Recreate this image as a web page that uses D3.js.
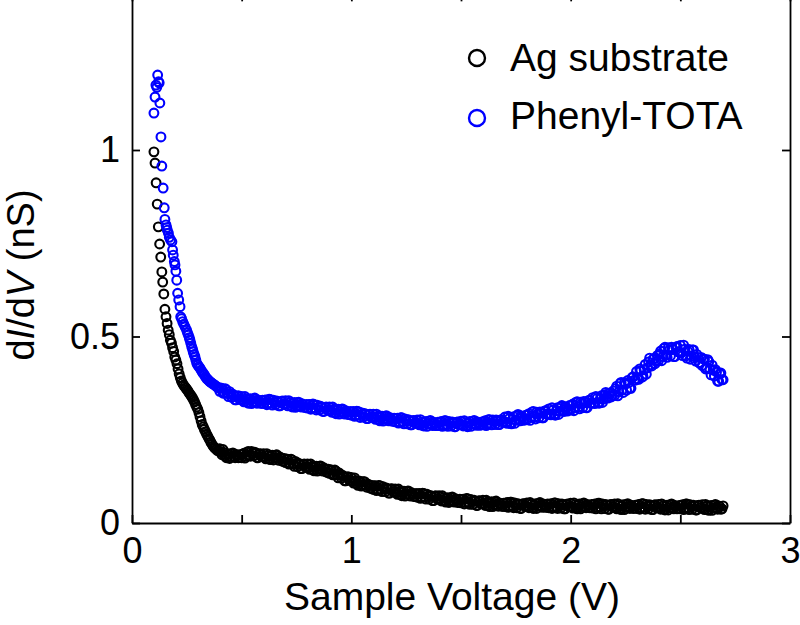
<!DOCTYPE html>
<html>
<head>
<meta charset="utf-8">
<script src="https://cdn.jsdelivr.net/npm/d3@7"></script>
<style>
    html, body { margin: 0; padding: 0; background: #fff; }
    svg { display: block; }
</style>
</head>
<body>
<div id="chart"></div>
<script>
// steep low-bias part, [voltage (V), dI/dV (nS)]
const agHead = [
    [0.100, 0.995], [0.105, 0.965], [0.110, 0.912], [0.115, 0.855], [0.120, 0.794],
    [0.126, 0.748], [0.131, 0.713], [0.136, 0.673], [0.140, 0.646], [0.145, 0.614],
    [0.150, 0.573], [0.155, 0.553], [0.160, 0.535], [0.165, 0.517], [0.170, 0.505],
    [0.175, 0.490], [0.180, 0.482], [0.185, 0.470], [0.190, 0.460], [0.195, 0.445],
    [0.200, 0.437], [0.205, 0.427], [0.210, 0.413], [0.215, 0.400], [0.220, 0.390],
    [0.225, 0.381], [0.230, 0.375], [0.235, 0.370], [0.240, 0.366], [0.245, 0.362],
    [0.250, 0.358], [0.255, 0.354], [0.260, 0.349], [0.265, 0.345], [0.270, 0.341],
    [0.275, 0.336], [0.280, 0.331], [0.285, 0.325], [0.290, 0.318], [0.295, 0.311],
    [0.300, 0.305], [0.305, 0.296], [0.310, 0.285], [0.315, 0.274], [0.320, 0.264],
    [0.325, 0.258], [0.330, 0.251], [0.335, 0.245], [0.340, 0.238], [0.345, 0.233],
    [0.350, 0.227], [0.355, 0.222], [0.360, 0.216], [0.365, 0.211], [0.370, 0.206],
    [0.375, 0.203], [0.380, 0.200], [0.385, 0.197], [0.390, 0.194], [0.395, 0.194]
];

const phenylHead = [
    [0.100, 1.099], [0.105, 1.142], [0.109, 1.174], [0.113, 1.168], [0.117, 1.201],
    [0.121, 1.183], [0.124, 1.180], [0.127, 1.126], [0.132, 1.035], [0.136, 0.957],
    [0.142, 0.898], [0.147, 0.845], [0.150, 0.814], [0.155, 0.799], [0.158, 0.792],
    [0.161, 0.785], [0.166, 0.777], [0.170, 0.766], [0.176, 0.759], [0.182, 0.754],
    [0.185, 0.732], [0.188, 0.718], [0.193, 0.701], [0.196, 0.692], [0.200, 0.675],
    [0.204, 0.651], [0.208, 0.616], [0.213, 0.598], [0.219, 0.580], [0.222, 0.553],
    [0.226, 0.548], [0.231, 0.540], [0.236, 0.533], [0.242, 0.526], [0.249, 0.517],
    [0.253, 0.510], [0.257, 0.504], [0.261, 0.497], [0.264, 0.491], [0.268, 0.482],
    [0.272, 0.473], [0.276, 0.466], [0.279, 0.459], [0.283, 0.452], [0.287, 0.446],
    [0.291, 0.437], [0.295, 0.428], [0.300, 0.423], [0.305, 0.419], [0.310, 0.415],
    [0.315, 0.410], [0.320, 0.405], [0.325, 0.401], [0.330, 0.397], [0.335, 0.392],
    [0.340, 0.388], [0.345, 0.385], [0.350, 0.382], [0.355, 0.379], [0.360, 0.377],
    [0.366, 0.374], [0.371, 0.372], [0.377, 0.370], [0.383, 0.367], [0.389, 0.364],
    [0.395, 0.362]
];

// dense part of the sweep: two interleaved voltage grids
const voltage = [
    0.40, 0.41, 0.42, 0.43, 0.44, 0.45, 0.46, 0.47, 0.48, 0.49,
    0.50, 0.51, 0.52, 0.53, 0.54, 0.55, 0.56, 0.57, 0.58, 0.59,
    0.60, 0.61, 0.62, 0.63, 0.64, 0.65, 0.66, 0.67, 0.68, 0.69,
    0.70, 0.71, 0.72, 0.73, 0.74, 0.75, 0.76, 0.77, 0.78, 0.79,
    0.80, 0.81, 0.82, 0.83, 0.84, 0.85, 0.86, 0.87, 0.88, 0.89,
    0.90, 0.91, 0.92, 0.93, 0.94, 0.95, 0.96, 0.97, 0.98, 0.99,
    1.00, 1.01, 1.02, 1.03, 1.04, 1.05, 1.06, 1.07, 1.08, 1.09,
    1.10, 1.11, 1.12, 1.13, 1.14, 1.15, 1.16, 1.17, 1.18, 1.19,
    1.20, 1.21, 1.22, 1.23, 1.24, 1.25, 1.26, 1.27, 1.28, 1.29,
    1.30, 1.31, 1.32, 1.33, 1.34, 1.35, 1.36, 1.37, 1.38, 1.39,
    1.40, 1.41, 1.42, 1.43, 1.44, 1.45, 1.46, 1.47, 1.48, 1.49,
    1.50, 1.51, 1.52, 1.53, 1.54, 1.55, 1.56, 1.57, 1.58, 1.59,
    1.60, 1.61, 1.62, 1.63, 1.64, 1.65, 1.66, 1.67, 1.68, 1.69,
    1.70, 1.71, 1.72, 1.73, 1.74, 1.75, 1.76, 1.77, 1.78, 1.79,
    1.80, 1.81, 1.82, 1.83, 1.84, 1.85, 1.86, 1.87, 1.88, 1.89,
    1.90, 1.91, 1.92, 1.93, 1.94, 1.95, 1.96, 1.97, 1.98, 1.99,
    2.00, 2.01, 2.02, 2.03, 2.04, 2.05, 2.06, 2.07, 2.08, 2.09,
    2.10, 2.11, 2.12, 2.13, 2.14, 2.15, 2.16, 2.17, 2.18, 2.19,
    2.20, 2.21, 2.22, 2.23, 2.24, 2.25, 2.26, 2.27, 2.28, 2.29,
    2.30, 2.31, 2.32, 2.33, 2.34, 2.35, 2.36, 2.37, 2.38, 2.39,
    2.40, 2.41, 2.42, 2.43, 2.44, 2.45, 2.46, 2.47, 2.48, 2.49,
    2.50, 2.51, 2.52, 2.53, 2.54, 2.55, 2.56, 2.57, 2.58, 2.59,
    2.60, 2.61, 2.62, 2.63, 2.64, 2.65, 2.66, 2.67, 2.68, 2.69
];

const voltageMid = [
    0.405, 0.415, 0.425, 0.435, 0.445, 0.455, 0.465, 0.475, 0.485, 0.495,
    0.505, 0.515, 0.525, 0.535, 0.545, 0.555, 0.565, 0.575, 0.585, 0.595,
    0.605, 0.615, 0.625, 0.635, 0.645, 0.655, 0.665, 0.675, 0.685, 0.695,
    0.705, 0.715, 0.725, 0.735, 0.745, 0.755, 0.765, 0.775, 0.785, 0.795,
    0.805, 0.815, 0.825, 0.835, 0.845, 0.855, 0.865, 0.875, 0.885, 0.895,
    0.905, 0.915, 0.925, 0.935, 0.945, 0.955, 0.965, 0.975, 0.985, 0.995,
    1.005, 1.015, 1.025, 1.035, 1.045, 1.055, 1.065, 1.075, 1.085, 1.095,
    1.105, 1.115, 1.125, 1.135, 1.145, 1.155, 1.165, 1.175, 1.185, 1.195,
    1.205, 1.215, 1.225, 1.235, 1.245, 1.255, 1.265, 1.275, 1.285, 1.295,
    1.305, 1.315, 1.325, 1.335, 1.345, 1.355, 1.365, 1.375, 1.385, 1.395,
    1.405, 1.415, 1.425, 1.435, 1.445, 1.455, 1.465, 1.475, 1.485, 1.495,
    1.505, 1.515, 1.525, 1.535, 1.545, 1.555, 1.565, 1.575, 1.585, 1.595,
    1.605, 1.615, 1.625, 1.635, 1.645, 1.655, 1.665, 1.675, 1.685, 1.695,
    1.705, 1.715, 1.725, 1.735, 1.745, 1.755, 1.765, 1.775, 1.785, 1.795,
    1.805, 1.815, 1.825, 1.835, 1.845, 1.855, 1.865, 1.875, 1.885, 1.895,
    1.905, 1.915, 1.925, 1.935, 1.945, 1.955, 1.965, 1.975, 1.985, 1.995,
    2.005, 2.015, 2.025, 2.035, 2.045, 2.055, 2.065, 2.075, 2.085, 2.095,
    2.105, 2.115, 2.125, 2.135, 2.145, 2.155, 2.165, 2.175, 2.185, 2.195,
    2.205, 2.215, 2.225, 2.235, 2.245, 2.255, 2.265, 2.275, 2.285, 2.295,
    2.305, 2.315, 2.325, 2.335, 2.345, 2.355, 2.365, 2.375, 2.385, 2.395,
    2.405, 2.415, 2.425, 2.435, 2.445, 2.455, 2.465, 2.475, 2.485, 2.495,
    2.505, 2.515, 2.525, 2.535, 2.545, 2.555, 2.565, 2.575, 2.585, 2.595,
    2.605, 2.615, 2.625, 2.635, 2.645, 2.655, 2.665, 2.675, 2.685, 2.695
];

const agValues = [
    0.199, 0.183, 0.189, 0.175, 0.186, 0.178, 0.188, 0.175, 0.182, 0.176,
    0.175, 0.187, 0.179, 0.192, 0.179, 0.188, 0.190, 0.175, 0.185, 0.178,
    0.186, 0.172, 0.181, 0.170, 0.182, 0.174, 0.183, 0.168, 0.173, 0.165,
    0.162, 0.171, 0.160, 0.169, 0.152, 0.159, 0.160, 0.146, 0.157, 0.150,
    0.158, 0.144, 0.152, 0.140, 0.152, 0.144, 0.153, 0.139, 0.144, 0.136,
    0.133, 0.142, 0.131, 0.139, 0.121, 0.128, 0.128, 0.113, 0.123, 0.115,
    0.122, 0.107, 0.114, 0.101, 0.112, 0.103, 0.111, 0.096, 0.101, 0.093,
    0.090, 0.100, 0.090, 0.100, 0.084, 0.092, 0.094, 0.080, 0.091, 0.084,
    0.091, 0.077, 0.085, 0.073, 0.085, 0.077, 0.086, 0.072, 0.078, 0.071,
    0.069, 0.079, 0.069, 0.079, 0.064, 0.072, 0.074, 0.060, 0.072, 0.065,
    0.073, 0.059, 0.068, 0.056, 0.068, 0.060, 0.070, 0.056, 0.062, 0.056,
    0.054, 0.064, 0.055, 0.065, 0.050, 0.058, 0.061, 0.047, 0.059, 0.052,
    0.061, 0.047, 0.056, 0.044, 0.057, 0.049, 0.059, 0.045, 0.052, 0.045,
    0.044, 0.055, 0.045, 0.056, 0.041, 0.049, 0.052, 0.039, 0.051, 0.045,
    0.054, 0.041, 0.050, 0.039, 0.052, 0.045, 0.055, 0.042, 0.049, 0.043,
    0.041, 0.052, 0.043, 0.054, 0.039, 0.048, 0.051, 0.038, 0.050, 0.044,
    0.053, 0.040, 0.049, 0.038, 0.051, 0.044, 0.054, 0.041, 0.048, 0.042,
    0.040, 0.051, 0.042, 0.053, 0.038, 0.047, 0.050, 0.037, 0.049, 0.043,
    0.051, 0.038, 0.047, 0.036, 0.049, 0.042, 0.052, 0.039, 0.046, 0.040,
    0.039, 0.050, 0.041, 0.052, 0.037, 0.046, 0.049, 0.036, 0.048, 0.042,
    0.050, 0.037, 0.046, 0.035, 0.048, 0.041, 0.051, 0.038, 0.045, 0.039,
    0.038, 0.049, 0.040, 0.051, 0.036, 0.045, 0.048, 0.035, 0.047, 0.041,
    0.049, 0.036, 0.045, 0.034, 0.047, 0.040, 0.050, 0.037, 0.044, 0.038
];

const agValuesMid = [
    0.189, 0.197, 0.180, 0.184, 0.173, 0.186, 0.179, 0.184, 0.175, 0.184,
    0.184, 0.174, 0.190, 0.182, 0.192, 0.180, 0.187, 0.175, 0.186, 0.178,
    0.176, 0.186, 0.172, 0.179, 0.169, 0.182, 0.174, 0.177, 0.166, 0.173,
    0.171, 0.158, 0.171, 0.159, 0.165, 0.151, 0.157, 0.146, 0.158, 0.150,
    0.148, 0.158, 0.143, 0.149, 0.139, 0.152, 0.144, 0.148, 0.137, 0.144,
    0.142, 0.129, 0.142, 0.129, 0.134, 0.120, 0.125, 0.113, 0.124, 0.115,
    0.112, 0.121, 0.105, 0.110, 0.099, 0.111, 0.102, 0.105, 0.094, 0.101,
    0.099, 0.087, 0.101, 0.090, 0.097, 0.084, 0.091, 0.080, 0.092, 0.084,
    0.081, 0.091, 0.076, 0.082, 0.072, 0.085, 0.077, 0.081, 0.071, 0.079,
    0.078, 0.066, 0.080, 0.069, 0.077, 0.064, 0.071, 0.060, 0.073, 0.065,
    0.063, 0.073, 0.059, 0.065, 0.055, 0.068, 0.061, 0.065, 0.055, 0.064,
    0.063, 0.051, 0.066, 0.055, 0.063, 0.050, 0.058, 0.047, 0.060, 0.052,
    0.051, 0.061, 0.047, 0.053, 0.044, 0.057, 0.050, 0.054, 0.045, 0.053,
    0.053, 0.042, 0.056, 0.046, 0.054, 0.041, 0.049, 0.039, 0.052, 0.045,
    0.044, 0.055, 0.041, 0.048, 0.039, 0.053, 0.046, 0.051, 0.042, 0.051,
    0.050, 0.039, 0.054, 0.044, 0.052, 0.040, 0.048, 0.038, 0.051, 0.044,
    0.043, 0.054, 0.040, 0.047, 0.038, 0.052, 0.045, 0.050, 0.041, 0.050,
    0.049, 0.038, 0.053, 0.043, 0.051, 0.039, 0.047, 0.037, 0.050, 0.043,
    0.041, 0.052, 0.038, 0.045, 0.036, 0.050, 0.043, 0.048, 0.039, 0.048,
    0.048, 0.037, 0.052, 0.042, 0.050, 0.038, 0.046, 0.036, 0.049, 0.042,
    0.040, 0.051, 0.037, 0.044, 0.035, 0.049, 0.042, 0.047, 0.038, 0.047,
    0.047, 0.036, 0.051, 0.041, 0.049, 0.037, 0.045, 0.035, 0.048, 0.041,
    0.039, 0.050, 0.036, 0.043, 0.034, 0.048, 0.041, 0.046, 0.037, 0.046
];

const phenylValues = [
    0.353, 0.361, 0.349, 0.357, 0.339, 0.345, 0.345, 0.330, 0.340, 0.332,
    0.339, 0.325, 0.333, 0.321, 0.333, 0.325, 0.335, 0.321, 0.328, 0.321,
    0.320, 0.330, 0.321, 0.331, 0.316, 0.325, 0.327, 0.314, 0.326, 0.319,
    0.328, 0.314, 0.323, 0.311, 0.323, 0.315, 0.324, 0.311, 0.317, 0.310,
    0.308, 0.318, 0.308, 0.318, 0.303, 0.311, 0.313, 0.299, 0.310, 0.303,
    0.311, 0.297, 0.305, 0.293, 0.305, 0.297, 0.306, 0.292, 0.298, 0.291,
    0.289, 0.299, 0.289, 0.299, 0.283, 0.292, 0.294, 0.280, 0.291, 0.284,
    0.292, 0.278, 0.286, 0.274, 0.286, 0.278, 0.288, 0.274, 0.280, 0.273,
    0.271, 0.281, 0.271, 0.282, 0.266, 0.274, 0.277, 0.263, 0.274, 0.268,
    0.276, 0.263, 0.271, 0.260, 0.272, 0.265, 0.275, 0.261, 0.268, 0.262,
    0.261, 0.272, 0.263, 0.274, 0.259, 0.268, 0.271, 0.258, 0.270, 0.264,
    0.273, 0.260, 0.269, 0.258, 0.272, 0.265, 0.275, 0.262, 0.269, 0.263,
    0.263, 0.274, 0.266, 0.277, 0.263, 0.272, 0.276, 0.264, 0.276, 0.271,
    0.284, 0.267, 0.280, 0.266, 0.285, 0.276, 0.291, 0.274, 0.285, 0.277,
    0.277, 0.293, 0.283, 0.299, 0.279, 0.293, 0.298, 0.282, 0.300, 0.292,
    0.306, 0.290, 0.303, 0.289, 0.309, 0.300, 0.315, 0.299, 0.310, 0.303,
    0.303, 0.319, 0.309, 0.325, 0.306, 0.320, 0.326, 0.309, 0.328, 0.321,
    0.336, 0.320, 0.334, 0.321, 0.341, 0.333, 0.350, 0.335, 0.348, 0.342,
    0.342, 0.367, 0.352, 0.377, 0.350, 0.372, 0.382, 0.361, 0.390, 0.383,
    0.406, 0.385, 0.409, 0.393, 0.425, 0.416, 0.442, 0.421, 0.441, 0.433,
    0.435, 0.461, 0.446, 0.471, 0.444, 0.464, 0.471, 0.446, 0.471, 0.459,
    0.476, 0.449, 0.466, 0.442, 0.465, 0.448, 0.464, 0.434, 0.444, 0.428,
    0.422, 0.439, 0.416, 0.433, 0.397, 0.410, 0.411, 0.380, 0.400, 0.384
];

const phenylValuesMid = [
    0.362, 0.348, 0.360, 0.347, 0.352, 0.337, 0.342, 0.330, 0.341, 0.332,
    0.329, 0.339, 0.324, 0.330, 0.320, 0.333, 0.326, 0.330, 0.321, 0.329,
    0.329, 0.317, 0.332, 0.321, 0.329, 0.317, 0.324, 0.314, 0.327, 0.319,
    0.318, 0.328, 0.314, 0.320, 0.310, 0.323, 0.315, 0.320, 0.310, 0.318,
    0.317, 0.305, 0.319, 0.308, 0.316, 0.303, 0.310, 0.299, 0.311, 0.303,
    0.301, 0.311, 0.296, 0.302, 0.292, 0.305, 0.297, 0.301, 0.291, 0.299,
    0.298, 0.286, 0.300, 0.289, 0.296, 0.284, 0.291, 0.280, 0.292, 0.284,
    0.282, 0.292, 0.277, 0.283, 0.273, 0.286, 0.279, 0.283, 0.273, 0.281,
    0.280, 0.268, 0.282, 0.272, 0.279, 0.266, 0.274, 0.263, 0.275, 0.268,
    0.266, 0.277, 0.262, 0.269, 0.259, 0.273, 0.266, 0.270, 0.261, 0.270,
    0.270, 0.259, 0.274, 0.264, 0.272, 0.260, 0.268, 0.258, 0.271, 0.264,
    0.263, 0.274, 0.260, 0.267, 0.259, 0.273, 0.266, 0.271, 0.262, 0.271,
    0.272, 0.261, 0.277, 0.267, 0.276, 0.264, 0.273, 0.264, 0.277, 0.271,
    0.270, 0.286, 0.268, 0.278, 0.267, 0.287, 0.279, 0.287, 0.275, 0.289,
    0.290, 0.275, 0.298, 0.285, 0.297, 0.282, 0.294, 0.282, 0.301, 0.292,
    0.292, 0.309, 0.291, 0.301, 0.291, 0.311, 0.303, 0.312, 0.300, 0.315,
    0.316, 0.301, 0.324, 0.311, 0.324, 0.309, 0.322, 0.309, 0.329, 0.321,
    0.322, 0.339, 0.322, 0.333, 0.323, 0.344, 0.338, 0.348, 0.338, 0.354,
    0.360, 0.341, 0.374, 0.357, 0.376, 0.356, 0.376, 0.361, 0.392, 0.383,
    0.386, 0.413, 0.391, 0.411, 0.399, 0.432, 0.424, 0.439, 0.427, 0.449,
    0.453, 0.435, 0.468, 0.451, 0.470, 0.448, 0.465, 0.446, 0.473, 0.459,
    0.456, 0.477, 0.448, 0.460, 0.439, 0.464, 0.446, 0.452, 0.430, 0.444,
    0.440, 0.413, 0.438, 0.413, 0.423, 0.394, 0.405, 0.380, 0.402, 0.384
];

const seriesNames = ['Ag substrate', 'Phenyl-TOTA'];
const seriesColors = ['#000000', '#0000ff'];
const xTicks = [0, 0.5, 1, 1.5, 2, 2.5, 3];
const xTickLabels = ['0', '', '1', '', '2', '', '3'];
const yTicks = [0, 0.5, 1];
const yTickLabels = ['0', '0.5', '1'];

const width = 800;
const height = 625;
const marginLeft = 132;
const marginRight = 10;
const marginBottom = 102;
const font = 'Arial, "Liberation Sans", sans-serif';

function sweep(head, vA, gA, vB, gB) {
    const pts = head.slice();
    vA.forEach((v, i) => {
        pts.push([v, gA[i]]);
        pts.push([vB[i], gB[i]]);
    });
    return pts;
}

const series = [
    sweep(agHead, voltage, agValues, voltageMid, agValuesMid),
    sweep(phenylHead, voltage, phenylValues, voltageMid, phenylValuesMid)
];

const x = d3.scaleLinear([0, 3], [marginLeft, width - marginRight]);
const y0 = height - marginBottom;
const y = d3.scaleLinear([0, 1.42], [y0, y0 - 1.42 * 373]);

const svg = d3
    .select('#chart')
    .append('svg')
    .attr('width', width)
    .attr('height', height)
    .attr('viewBox', [0, 0, width, height]);

// DATA
series.forEach((pts, s) => {
    svg.append('g')
        .attr('fill', 'none')
        .attr('stroke', seriesColors[s])
        .attr('stroke-width', 2.1)
        .selectAll('circle')
        .data(pts)
        .join('circle')
        .attr('cx', (d) => x(d[0]))
        .attr('cy', (d) => y(d[1]))
        .attr('r', 4.4);
});

// AXES (ticks point inward)
const tickLen = 8;
svg.append('g')
    .attr('transform', `translate(0,${y.range()[0]})`)
    .call(
        d3.axisBottom(x)
            .tickValues(xTicks)
            .tickFormat((d, i) => xTickLabels[i])
            .tickSizeInner(-tickLen)
            .tickSizeOuter(0)
            .tickPadding(14)
    )
    .call((g) => g.selectAll('text').attr('font-size', 36).attr('font-family', font).attr('fill', '#000'));

svg.append('g')
    .attr('transform', `translate(0,${y.range()[1]})`)
    .call(d3.axisTop(x).tickValues(xTicks).tickFormat('').tickSizeInner(-tickLen).tickSizeOuter(0));

svg.append('g')
    .attr('transform', `translate(${marginLeft},0)`)
    .call(
        d3.axisLeft(y)
            .tickValues(yTicks)
            .tickFormat((d, i) => yTickLabels[i])
            .tickSizeInner(-tickLen)
            .tickSizeOuter(0)
            .tickPadding(12)
    )
    .call((g) => g.selectAll('text').attr('font-size', 36).attr('font-family', font).attr('fill', '#000'));

svg.append('g')
    .attr('transform', `translate(${width - marginRight},0)`)
    .call(d3.axisRight(y).tickValues(yTicks).tickFormat('').tickSizeInner(-tickLen).tickSizeOuter(0));

svg.selectAll('.domain, .tick line').attr('stroke', '#000').attr('stroke-width', 1.8);

// AXIS LABELS
svg.append('text')
    .attr('x', 452)
    .attr('y', 610)
    .attr('text-anchor', 'middle')
    .attr('font-family', font)
    .attr('font-size', 39)
    .text('Sample Voltage (V)');

const yLabel = svg.append('text')
    .attr('transform', 'translate(34,275) rotate(-90)')
    .attr('text-anchor', 'middle')
    .attr('font-family', font)
    .attr('font-size', 38);
yLabel.append('tspan').text('d');
yLabel.append('tspan').attr('font-style', 'italic').text('I');
yLabel.append('tspan').text('/d');
yLabel.append('tspan').attr('font-style', 'italic').text('V');
yLabel.append('tspan').text(' (nS)');

// LEGEND
const legend = svg.append('g').attr('font-family', font).attr('font-size', 39);
seriesNames.forEach((name, i) => {
    legend.append('circle')
        .attr('cx', 477)
        .attr('cy', 58 + i * 60)
        .attr('r', 8)
        .attr('fill', 'none')
        .attr('stroke', seriesColors[i])
        .attr('stroke-width', 2.4);
    legend.append('text')
        .attr('x', 510)
        .attr('y', 71 + i * 58)
        .text(name);
});
</script>
</body>
</html>
